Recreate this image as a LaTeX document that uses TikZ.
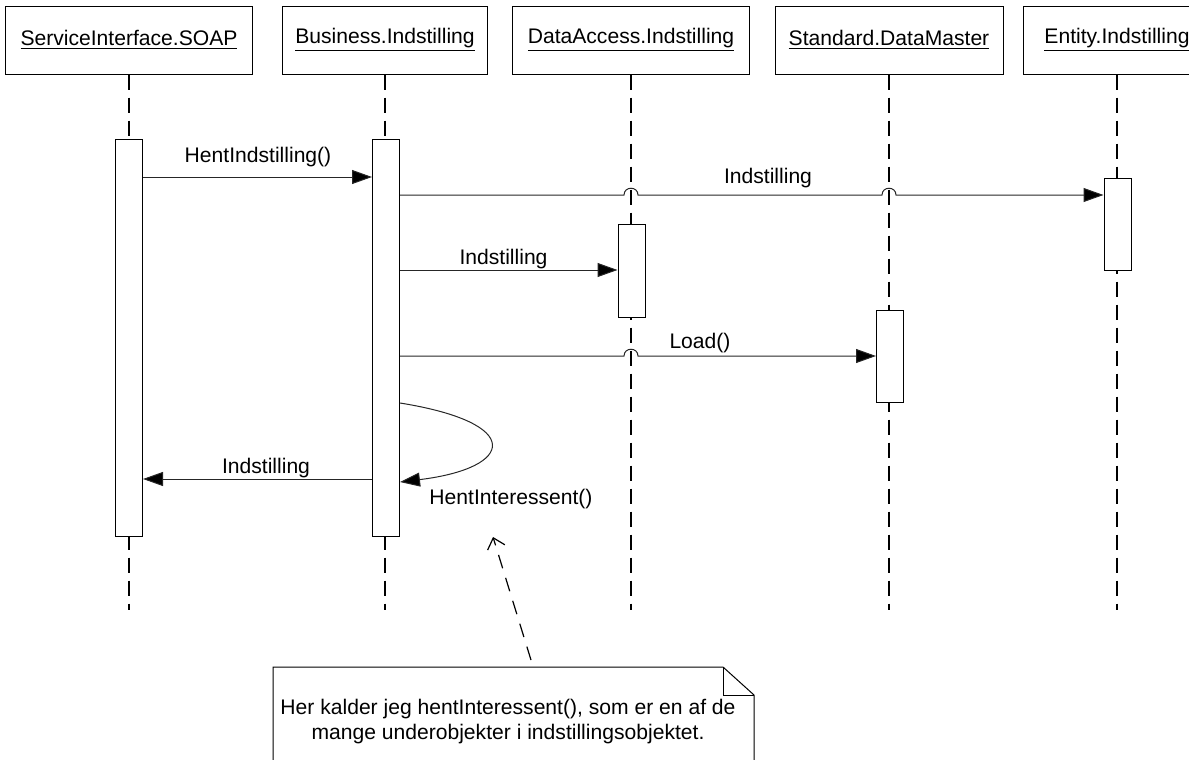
\documentclass[tikz,border=0pt]{standalone}
\usepackage{fontspec}
\setmainfont{Liberation Sans}
\usetikzlibrary{arrows.meta}
\begin{document}
\begin{tikzpicture}[x=0.5pt,y=-0.5pt,
  font=\fontsize{10.55}{12.5}\selectfont,
  hdr/.style={draw, line width=0.5pt, minimum height=34pt, inner sep=0pt},
  act/.style={draw, fill=white, line width=0.5pt, minimum width=13.5pt, inner sep=0pt},
  life/.style={line width=1pt, dash pattern=on 7.5pt off 4pt},
  msg/.style={line width=0.5pt, draw=black!85, -{Triangle[length=10pt,width=7pt,fill=black]}},
  lbl/.style={anchor=base, inner sep=0pt},
  notelink/.style={line width=0.6pt, dash pattern=on 7pt off 5pt, -{Straight Barb[length=5pt,width=9pt]}}
]
\useasboundingbox (0,0) rectangle (1189,760);
\clip (0,0) rectangle (1189,760);

% object headers
\node[hdr, minimum width=123.5pt] (h1) at (129,40)  {\underline{ServiceInterface.SOAP}};
\node[hdr, minimum width=102.5pt] (h2) at (385,40)  {\underline{Business.Indstilling}};
\node[hdr, minimum width=118.5pt] (h3) at (631,40)  {\underline{DataAccess.Indstilling}};
\node[hdr, minimum width=114pt]   (h4) at (889,40)  {\underline{Standard.DataMaster}};
\node[hdr, minimum width=94pt]    (h5) at (1117,40) {\underline{Entity.Indstilling}};

% lifelines
\coordinate (lend) at (0,610);
\foreach \h in {h1,h2,h3,h4,h5}
  \draw[life] (\h.south) -- (\h.south |- lend);

% activation bars
\node[act, minimum height=198.5pt] (a1) at (129,337.5) {};
\node[act, minimum height=198.5pt] (a2) at (386,337.5) {};
\node[act, minimum height=46.5pt]  (a3) at (631.5,270.5) {};
\node[act, minimum height=46pt]    (a4) at (890,356) {};
\node[act, minimum height=46pt]    (a5) at (1117.5,224) {};

% messages
\draw[msg] (a1.east |- 0,177) -- (a2.west |- 0,177);
\node[lbl] (m1) at (258,162) {HentIndstilling()};

\draw[msg] (a2.east |- 0,195) -- (624,195)
  .. controls (624,186) and (638,186) .. (638,195) -- (882,195)
  .. controls (882,186) and (896,186) .. (896,195) -- (a5.west |- 0,195);
\node[lbl] (m2) at (768,183) {Indstilling};

\draw[msg] (a2.east |- 0,270) -- (a3.west |- 0,270);
\node[lbl] (m3) at (503.5,264) {Indstilling};

\draw[msg] (a2.east |- 0,356) -- (624,356)
  .. controls (624,347) and (638,347) .. (638,356) -- (a4.west |- 0,356);
\node[lbl] (m4) at (700,348) {Load()};

\draw[msg] (a2.east |- 0,403) .. controls (525,423) and (515,468) .. (a2.east |- 0,482);
\node[lbl] (m5) at (511,504) {HentInteressent()};

\draw[msg] (a2.west |- 0,479) -- (a1.east |- 0,479);
\node[lbl] (m6) at (266,473) {Indstilling};

% note
\draw[line width=0.5pt, fill=white] (273,667) -- (723,667) -- (754,695) -- (754,800) -- (273,800) -- cycle;
\draw[line width=0.5pt] (723,667) |- (754,695);
\node[align=center, inner sep=0pt] (note) at (508,722)
  {Her kalder jeg hentInteressent(), som er en af de\\mange underobjekter i indstillingsobjektet.};
\coordinate (nfoot) at (531,660);
\coordinate (ntip) at (493,537);
\draw[notelink] (nfoot) -- (ntip);
\end{tikzpicture}
\end{document}
